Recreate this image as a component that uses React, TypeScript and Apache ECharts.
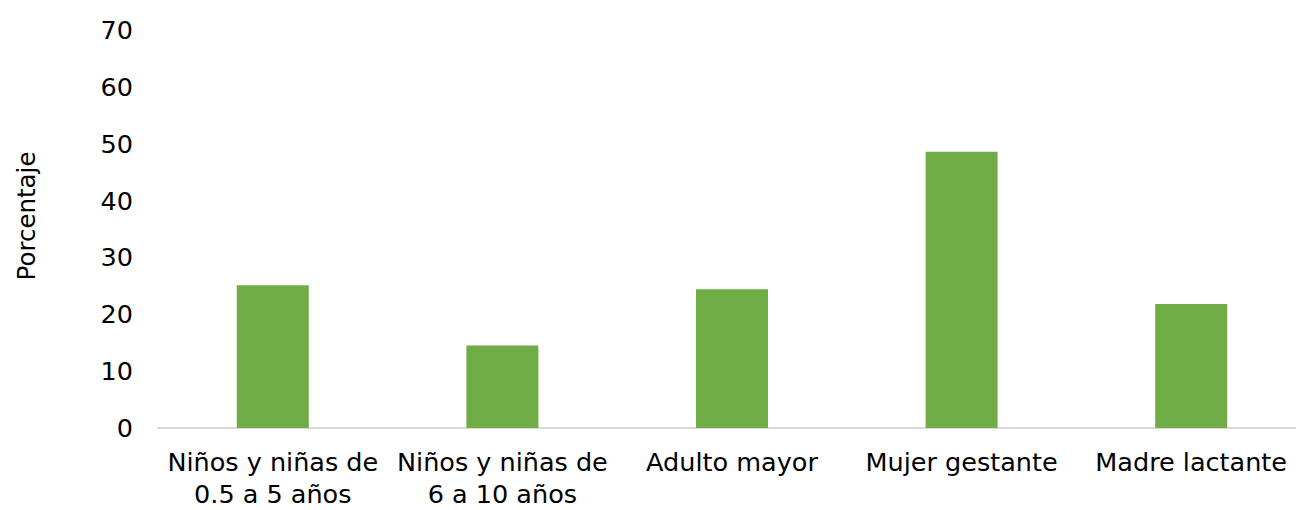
import React, { useEffect, useRef } from "react";
import * as echarts from "echarts";

const categories = [
  "Niños y niñas de\n0.5 a 5 años",
  "Niños y niñas de\n6 a 10 años",
  "Adulto mayor",
  "Mujer gestante",
  "Madre lactante",
];
const values = [25.1, 14.5, 24.4, 48.6, 21.8];
const yTicks = { min: 0, max: 70, interval: 10 };
const yName = "Porcentaje";

export default function App() {
  const ref = useRef<HTMLDivElement>(null);
  useEffect(() => {
    document.body.style.margin = "0";
    document.body.style.overflow = "hidden";
    const chart = echarts.init(ref.current!, null, { renderer: "svg" });
    const font = "'DejaVu Sans', Verdana, sans-serif";
    chart.setOption({
      animation: false,
      backgroundColor: "#ffffff",
      grid: { left: 158, top: 30, bottom: 78, right: 0, containLabel: false },
      xAxis: {
        type: "category",
        data: categories,
        axisLine: { show: true, lineStyle: { color: "#d9d9d9", width: 2 } },
        axisTick: { show: false },
        axisLabel: {
          interval: 0,
          color: "#000",
          fontFamily: font,
          fontSize: 25.5,
          lineHeight: 32,
          margin: 18,
        },
      },
      yAxis: {
        type: "value",
        min: yTicks.min,
        max: yTicks.max,
        interval: yTicks.interval,
        axisLine: { show: false },
        axisTick: { show: false },
        splitLine: { show: false },
        axisLabel: {
          color: "#000",
          fontFamily: font,
          fontSize: 25.5,
          margin: 25,
        },
      },
      graphic: [
        {
          type: "text",
          x: 26,
          y: 216,
          rotation: Math.PI / 2,
          style: {
            text: yName,
            fill: "#000",
            font: `24.5px ${font}`,
            align: "center",
            verticalAlign: "middle",
          },
        },
      ],
      series: [
        {
          type: "bar",
          data: values,
          barWidth: 72,
          itemStyle: { color: "#70ad47" },
        },
      ],
    });
    return () => chart.dispose();
  }, []);
  return <div ref={ref} style={{ width: 1306, height: 510 }} />;
}
